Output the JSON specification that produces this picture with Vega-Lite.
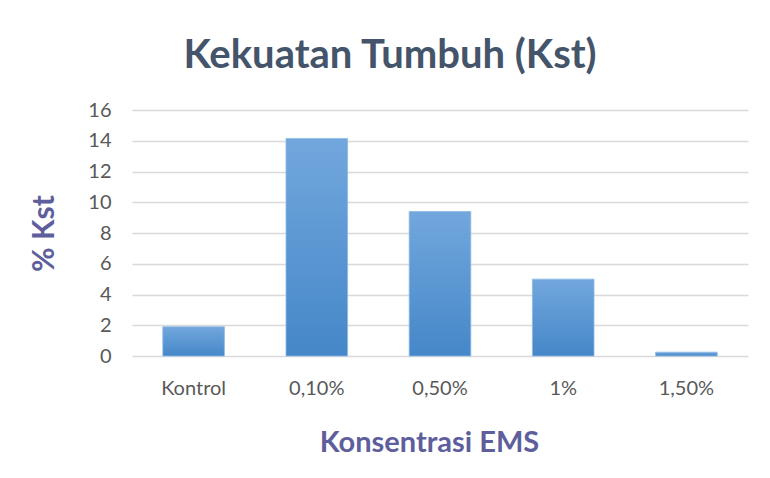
{
  "$schema": "https://vega.github.io/schema/vega-lite/v6.json",
  "width": 616,
  "height": 246,
  "autosize": {"type": "none"},
  "padding": {"left": 132, "top": 110, "right": 22, "bottom": 122},
  "background": "white",
  "title": {
    "text": "Kekuatan Tumbuh (Kst)",
    "font": "Lato",
    "fontSize": 40,
    "fontWeight": "bold",
    "color": "#44546A",
    "anchor": "middle",
    "dx": -50,
    "offset": 24
  },
  "data": {
    "values": [
      {"konsentrasi": "Kontrol", "kst": 1.9},
      {"konsentrasi": "0,10%", "kst": 14.15},
      {"konsentrasi": "0,50%", "kst": 9.4},
      {"konsentrasi": "1%", "kst": 5.0},
      {"konsentrasi": "1,50%", "kst": 0.25}
    ]
  },
  "mark": {
    "type": "bar",
    "color": {
      "gradient": "linear",
      "x1": 0, "y1": 0, "x2": 0, "y2": 1,
      "stops": [
        {"offset": 0, "color": "#72A7DD"},
        {"offset": 1, "color": "#4587C8"}
      ]
    },
    "stroke": "#8DB9E6",
    "strokeWidth": 0.8
  },
  "encoding": {
    "x": {
      "field": "konsentrasi",
      "type": "nominal",
      "sort": null,
      "scale": {"paddingInner": 0.5, "paddingOuter": 0.25},
      "axis": {
        "title": "Konsentrasi EMS",
        "titleFont": "Lato",
        "titleFontSize": 29,
        "titleFontWeight": "bold",
        "titleColor": "#5E5E9C",
        "titlePadding": 30,
        "titleX": 297,
        "labelAngle": 0,
        "labelFont": "Lato",
        "labelFontSize": 20,
        "labelColor": "#595959",
        "labelPadding": 22,
        "ticks": false,
        "tickSize": 0,
        "domain": false,
        "grid": false
      }
    },
    "y": {
      "field": "kst",
      "type": "quantitative",
      "scale": {"domain": [0, 16], "nice": false},
      "axis": {
        "title": "% Kst",
        "titleFont": "Lato",
        "titleFontSize": 30,
        "titleFontWeight": "bold",
        "titleColor": "#5E5E9C",
        "titlePadding": 28,
        "values": [0, 2, 4, 6, 8, 10, 12, 14, 16],
        "labelFont": "Lato",
        "labelFontSize": 20,
        "labelColor": "#595959",
        "labelPadding": 21,
        "ticks": false,
        "tickSize": 0,
        "domain": false,
        "grid": true,
        "gridColor": "#D9D9D9",
        "gridWidth": 1.5
      }
    }
  },
  "config": {
    "view": {"stroke": null}
  }
}
